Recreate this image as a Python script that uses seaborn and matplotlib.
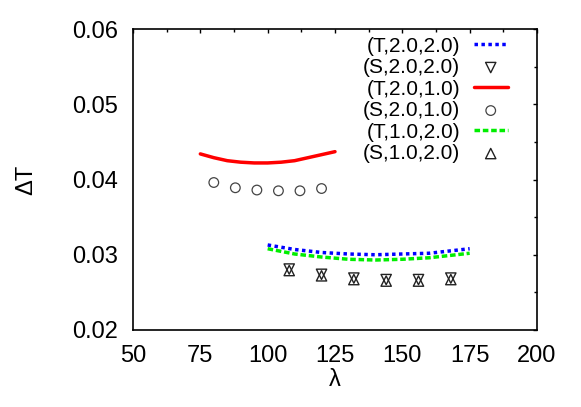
import matplotlib
matplotlib.use("Agg")
import matplotlib.pyplot as plt
import seaborn as sns
import pandas as pd
from matplotlib.ticker import MultipleLocator

# ---- data ----
t22_x = [100, 110, 120, 130, 140, 150, 160, 170, 175]
t22_y = [0.0313, 0.0307, 0.0303, 0.0301, 0.0300, 0.0301, 0.0302, 0.0306, 0.0308]

s22_x = [108, 120, 132, 144, 156, 168]
s22_y = [0.0281, 0.0274, 0.0269, 0.0267, 0.0267, 0.0269]

t21_x = [75, 80, 85, 90, 95, 100, 105, 110, 115, 120, 125]
t21_y = [0.0434, 0.0429, 0.0425, 0.0423, 0.0422, 0.0422, 0.0423, 0.0425, 0.0429, 0.0433, 0.0437]

s21_x = [80, 88, 96, 104, 112, 120]
s21_y = [0.0396, 0.0389, 0.0386, 0.0385, 0.0385, 0.0388]

t12_x = [100, 110, 120, 130, 140, 150, 160, 170, 175]
t12_y = [0.0308, 0.0301, 0.0297, 0.0294, 0.0293, 0.0294, 0.0296, 0.0300, 0.0302]

s12_x = [108, 120, 132, 144, 156, 168]
s12_y = [0.0279, 0.0272, 0.0267, 0.0265, 0.0265, 0.0267]

labels = ["(T,2.0,2.0)", "(S,2.0,2.0)", "(T,2.0,1.0)", "(S,2.0,1.0)", "(T,1.0,2.0)", "(S,1.0,2.0)"]

x_ticks = [50, 75, 100, 125, 150, 175, 200]
y_ticks = [0.02, 0.03, 0.04, 0.05, 0.06]

sns.set_theme(style="white")
plt.rcParams['font.family'] = ['Liberation Sans', 'DejaVu Sans']
plt.rcParams['text.color'] = 'black'
plt.rcParams['axes.labelcolor'] = 'black'
plt.rcParams['xtick.color'] = 'black'
plt.rcParams['ytick.color'] = 'black'

fig = plt.figure(figsize=(5.81, 4.07), dpi=100)
ax = fig.add_axes([133/581, 1 - 330/407, (537 - 133)/581, (330 - 29)/407])

sns.lineplot(x=t22_x, y=t22_y, ax=ax, color="#0000ff", lw=2.5, linestyle=(0, (1, 1)), label=labels[0])
sns.scatterplot(x=s22_x, y=s22_y, ax=ax, marker="v", s=55, facecolor="none", edgecolor="#222222", linewidth=1.0, label=labels[1])
sns.lineplot(x=t21_x, y=t21_y, ax=ax, color="#ff0000", lw=2.5, label=labels[2])
sns.scatterplot(x=s21_x, y=s21_y, ax=ax, marker="o", s=48, facecolor="none", edgecolor="#444444", linewidth=0.9, label=labels[3])
sns.lineplot(x=t12_x, y=t12_y, ax=ax, color="#00ee00", lw=2.5, linestyle=(0, (1.6, 0.8)), label=labels[4])
sns.scatterplot(x=s12_x, y=s12_y, ax=ax, marker="^", s=55, facecolor="none", edgecolor="#222222", linewidth=1.0, label=labels[5])

ax.set_xlim(50, 200)
ax.set_ylim(0.02, 0.06)
ax.set_xticks(x_ticks)
ax.set_yticks(y_ticks)
ax.set_yticklabels([f"{v:.2f}" for v in y_ticks])
ax.xaxis.set_minor_locator(MultipleLocator(12.5))
ax.yaxis.set_minor_locator(MultipleLocator(0.005))
ax.tick_params(which="both", direction="in", top=True, right=True, labelsize=17, pad=11,
               color="black", labelcolor="black")
ax.tick_params(which="major", length=3.2, width=1)
ax.tick_params(which="minor", length=2, width=1)
for sp in ax.spines.values():
    sp.set_color("black")
    sp.set_linewidth(1.2)

ax.set_xlabel("λ", fontsize=17, labelpad=1, color="black")
ax.set_ylabel("ΔT", fontsize=17, labelpad=25, color="black")

leg = ax.legend(loc="upper right", bbox_to_anchor=(0.928, 0.975), frameon=False, markerfirst=False,
                fontsize=15, handlelength=1.65, handletextpad=0.65, labelspacing=0.12,
                borderaxespad=0, borderpad=0)
for t in leg.get_texts():
    t.set_color("black")

fig.savefig("out.png", dpi=100)
